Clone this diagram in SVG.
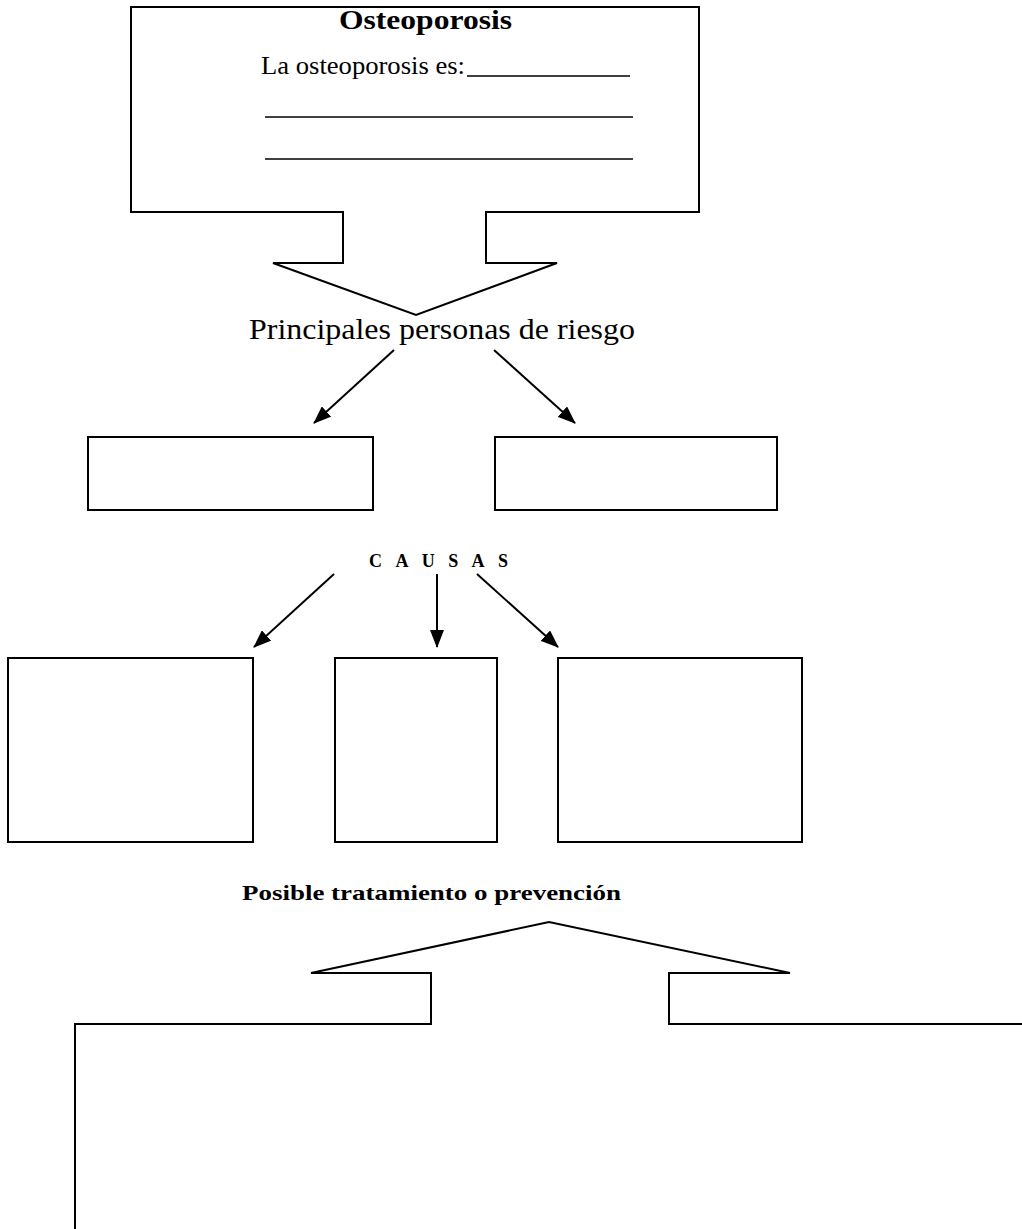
<svg xmlns="http://www.w3.org/2000/svg" width="1022" height="1229" viewBox="0 0 1022 1229">
<style>
.shape{fill:none;stroke:#000;stroke-width:2;stroke-linejoin:miter}
.conn{stroke:#000;stroke-width:2;fill:none}
.serif{font-family:"Liberation Serif","Times New Roman",serif;fill:#000}
.bold{font-weight:bold}
.rule{stroke:#000;stroke-width:1.5}
</style>
<defs>
<marker id="ah" markerUnits="userSpaceOnUse" markerWidth="18" markerHeight="14" refX="17" refY="7" orient="auto">
<path d="M0,0 L18,7 L0,14 Z" fill="#000"/>
</marker>
</defs>
<rect width="1022" height="1229" fill="#fff"/>

<g id="osteoporosis">
<path class="shape" d="M131,7 H699 V212 H486 V263 H557 L416,315 L273,263 H343 V212 H131 Z"/>
<text class="serif bold" x="339" y="29" font-size="28" textLength="173" lengthAdjust="spacingAndGlyphs">Osteoporosis</text>
<text class="serif" x="261" y="74" font-size="25" textLength="204" lengthAdjust="spacingAndGlyphs">La osteoporosis es:</text>
<line class="rule" x1="467" y1="76" x2="630" y2="76"/>
<line class="rule" x1="265" y1="117" x2="633" y2="117"/>
<line class="rule" x1="265" y1="159" x2="633" y2="159"/>
</g>

<g id="riesgo-label">
<text class="serif" x="249" y="339" font-size="29" textLength="386" lengthAdjust="spacingAndGlyphs">Principales personas de riesgo</text>
</g>

<g id="riesgo-1"><rect class="shape" x="88" y="437" width="285" height="73"/></g>
<g id="riesgo-2"><rect class="shape" x="495" y="437" width="282" height="73"/></g>

<g id="causas-label">
<text class="serif bold" x="369" y="567" font-size="18" textLength="139" lengthAdjust="spacing">CAUSAS</text>
</g>

<g id="causa-1"><rect class="shape" x="8" y="658" width="245" height="184"/></g>
<g id="causa-2"><rect class="shape" x="335" y="658" width="162" height="184"/></g>
<g id="causa-3"><rect class="shape" x="558" y="658" width="244" height="184"/></g>

<g id="tratamiento-label">
<text class="serif bold" x="242" y="900" font-size="22" textLength="379" lengthAdjust="spacingAndGlyphs">Posible tratamiento o prevención</text>
</g>

<g id="tratamiento">
<path class="shape" d="M75,1229 V1024 H431 V973 H311 L549,922 L790,973 H669 V1024 H1022"/>
</g>

<g id="connectors">
<line class="conn" x1="394" y1="350" x2="314" y2="423" marker-end="url(#ah)"/>
<line class="conn" x1="494" y1="350" x2="575" y2="423" marker-end="url(#ah)"/>
<line class="conn" x1="334" y1="574" x2="254" y2="647" marker-end="url(#ah)"/>
<line class="conn" x1="437" y1="574" x2="437" y2="647" marker-end="url(#ah)"/>
<line class="conn" x1="477" y1="574" x2="558" y2="647" marker-end="url(#ah)"/>
</g>
</svg>
